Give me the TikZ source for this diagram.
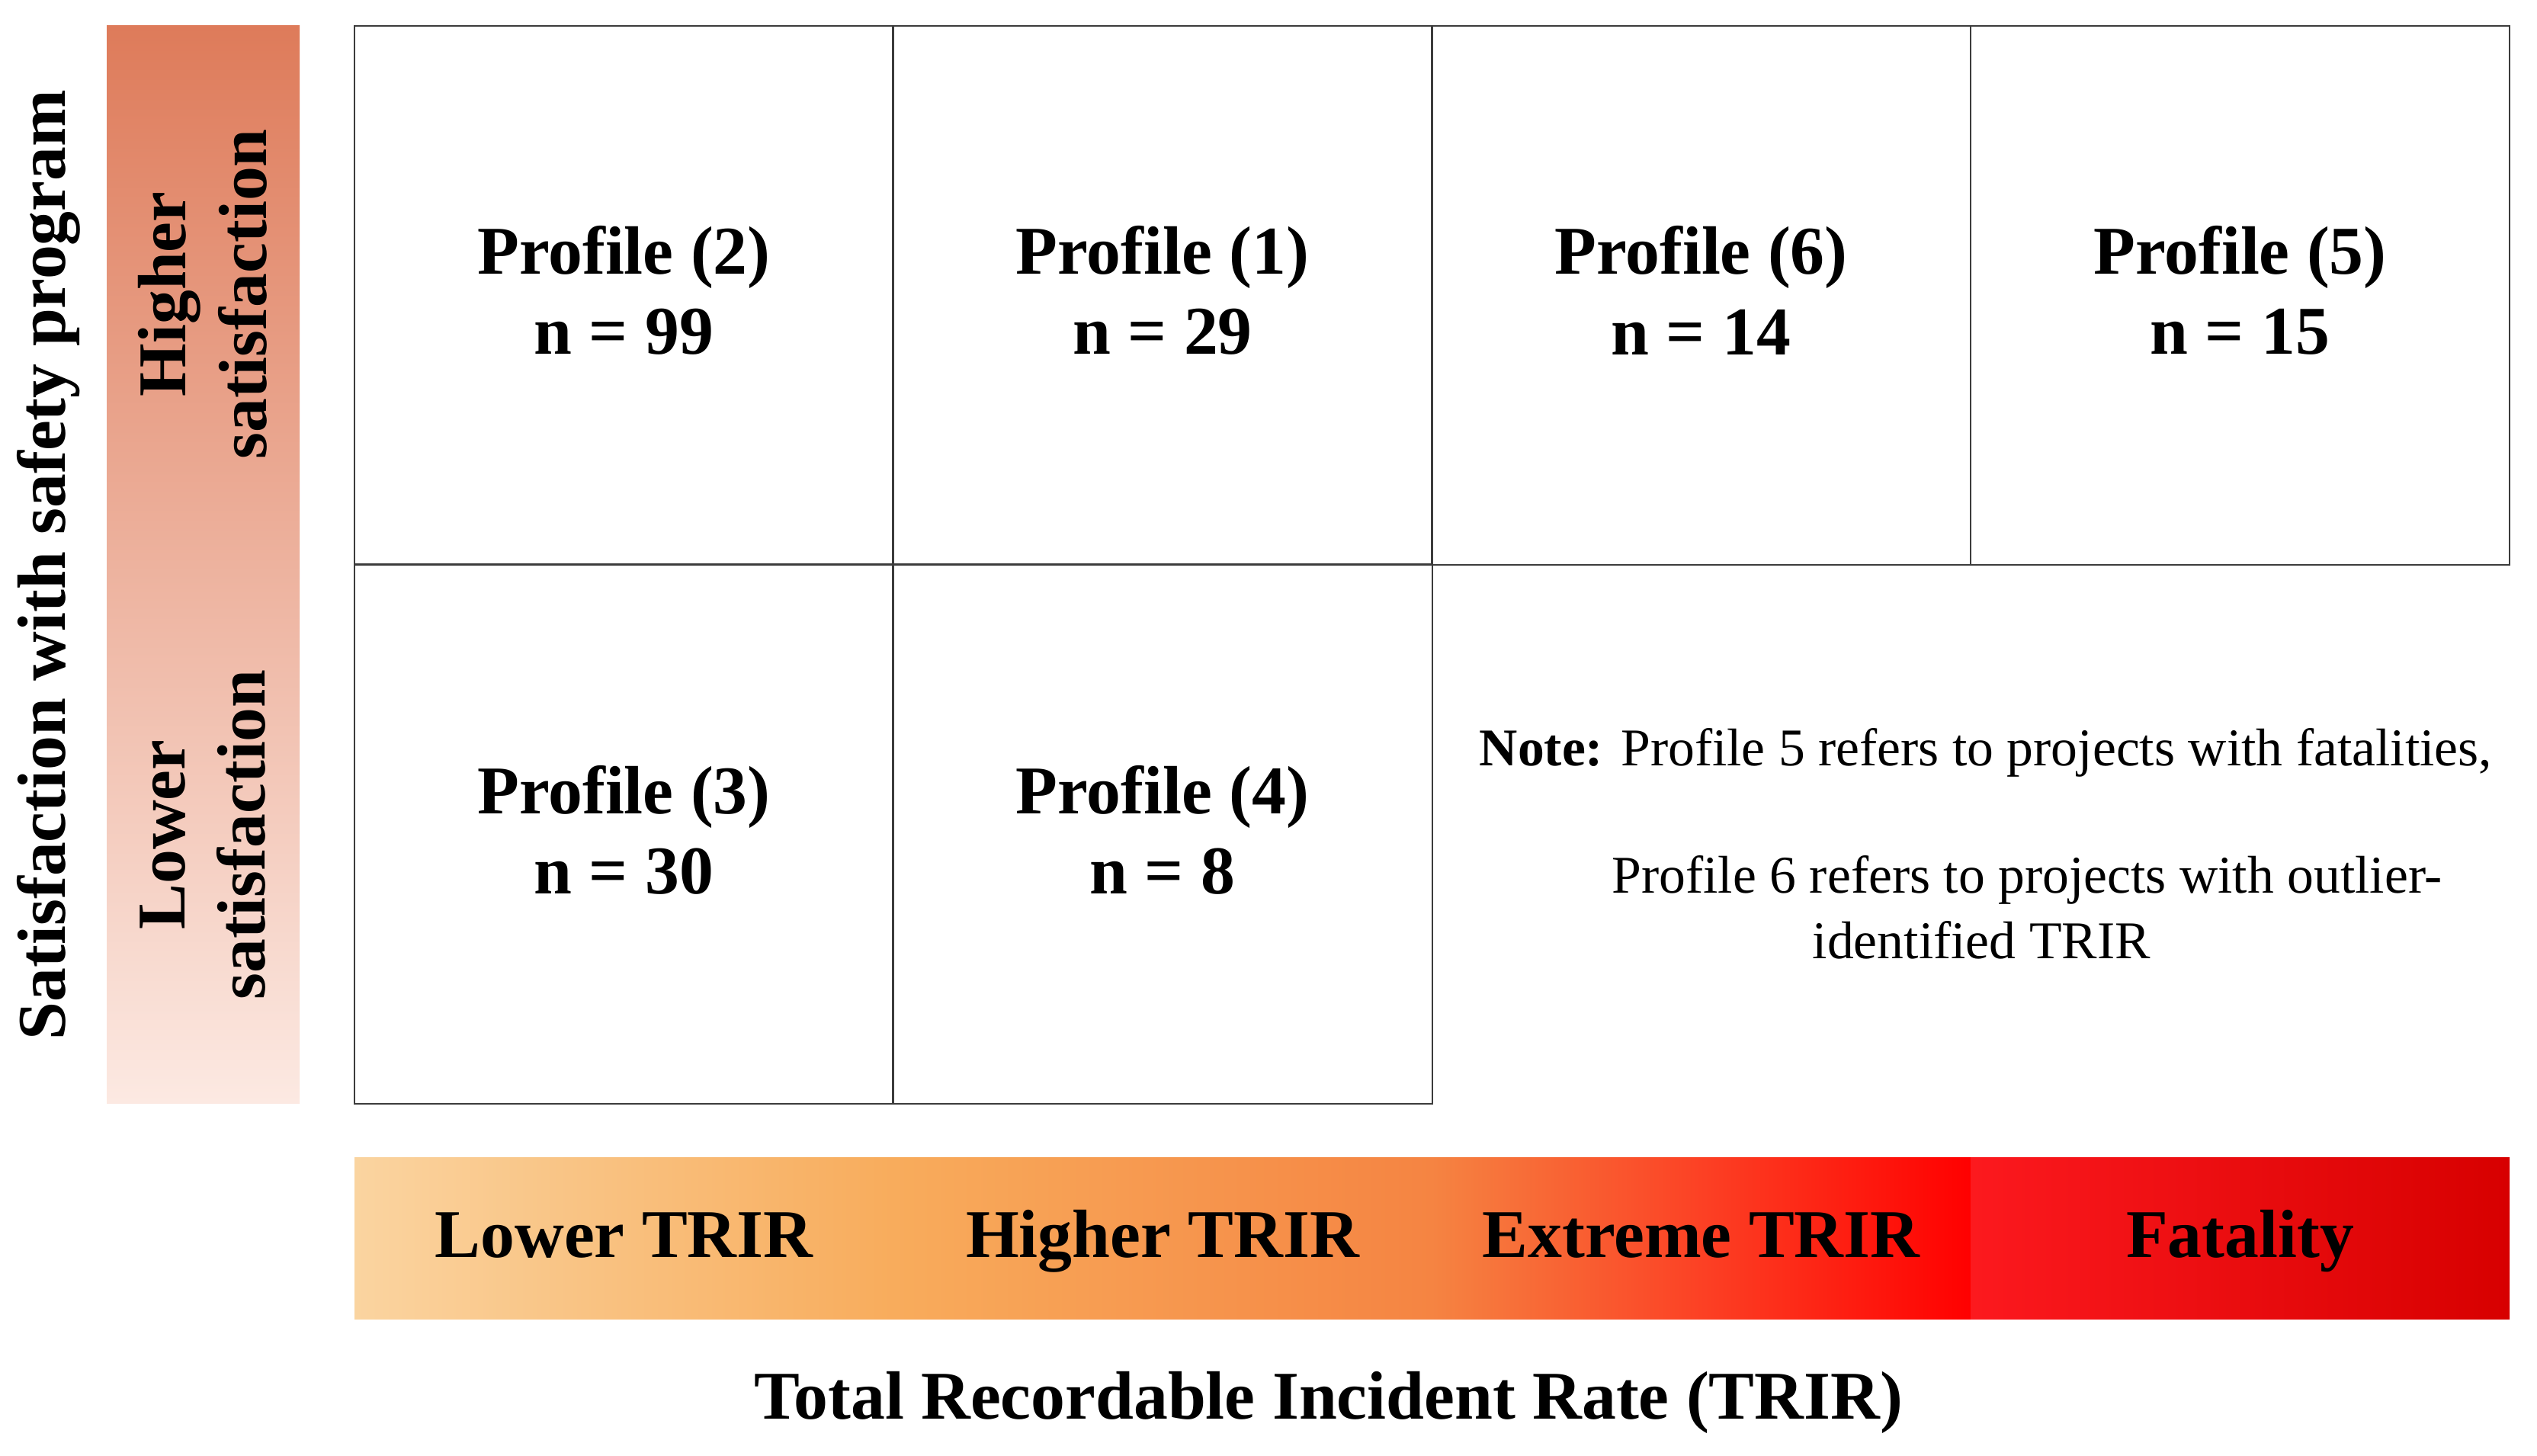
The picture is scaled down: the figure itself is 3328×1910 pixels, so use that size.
\documentclass[tikz,border=0pt]{standalone}
\usepackage{fontspec}
\setmainfont{Liberation Serif}
\definecolor{c0}{RGB}{250,212,160}
\definecolor{c1}{RGB}{248,172,92}
\definecolor{c2}{RGB}{245,132,66}
\definecolor{c3}{RGB}{252,62,35}
\definecolor{c4}{RGB}{255,0,0}
\definecolor{fatL}{RGB}{252,25,30}
\definecolor{fatR}{RGB}{215,0,0}
\definecolor{satT}{RGB}{222,123,90}
\definecolor{satM}{RGB}{233,168,145}
\definecolor{satB}{RGB}{252,233,226}
\definecolor{gridc}{RGB}{60,60,60}
\pgfdeclarehorizontalshading{trirshade}{100bp}{color(0bp)=(c0); color(25bp)=(c0); color(41.67bp)=(c1); color(58.33bp)=(c2); color(67bp)=(c3); color(75bp)=(c4); color(100bp)=(c4)}
\begin{document}
\begin{tikzpicture}[x=0.01cm,y=-0.01cm,
  big/.style={font=\fontsize{25.5}{30}\selectfont\bfseries, align=center},
  cell/.style={draw=gridc, line width=0.6pt, minimum width=7.07cm, minimum height=7.07cm, inner sep=0pt},
  barlabel/.style={big, anchor=base},
  notetext/.style={font=\fontsize{19.8}{24}\selectfont, anchor=west, inner sep=0pt}]
\useasboundingbox (0,0) rectangle (3328,1910);
% left satisfaction bar
\shade[top color=satT, middle color=satM, bottom color=satB] (140,34) rectangle (393,1447);
\node[big, rotate=90] (hisat) at (266,386) {Higher\\satisfaction};
\node[big, rotate=90] (losat) at (266,1095) {Lower\\satisfaction};
\node[big, rotate=90] (ytitle) at (64,741) {Satisfaction with safety program};
% grid cells
\node[cell] (p2) at (818.5,387.5) {};
\node[cell] (p1) at (1525,387.5) {};
\node[cell] (p6) at (2231.5,387.5) {};
\node[cell] (p5) at (2938.5,387.5) {};
\node[cell] (p3) at (818.5,1094) {};
\node[cell] (p4) at (1525,1094) {};
\node[big] (t2) at (818.5,381) {Profile (2)\\n = 99};
\node[big] (t1) at (1525,381) {Profile (1)\\n = 29};
\node[big] (t6) at (2231.5,381) {Profile (6)\\n = 14};
\node[big] (t5) at (2938.5,381) {Profile (5)\\n = 15};
\node[big] (t3) at (818.5,1089) {Profile (3)\\n = 30};
\node[big] (t4) at (1525,1089) {Profile (4)\\n = 8};
% note
\node[notetext] (note1) at (1940,987) {\textbf{Note:} Profile 5 refers to projects with fatalities,};
\node[notetext] (note2) at (2114,1154) {Profile 6 refers to projects with outlier-};
\node[notetext] (note3) at (2377,1233) {identified TRIR};
% TRIR bar
\shade[shading=trirshade] (465,1518) rectangle (2585,1730);
\shade[left color=fatL, right color=fatR] (2585,1518) rectangle (3292,1730);
\node[barlabel] (lo) at (818.5,1649) {Lower TRIR};
\node[barlabel] (hi) at (1525,1649) {Higher TRIR};
\node[barlabel] (ex) at (2231.5,1649) {Extreme TRIR};
\node[barlabel] (fa) at (2938.5,1649) {Fatality};
\node[big] (xtitle) at (1743,1840) {Total Recordable Incident Rate (TRIR)};
\end{tikzpicture}
\end{document}
